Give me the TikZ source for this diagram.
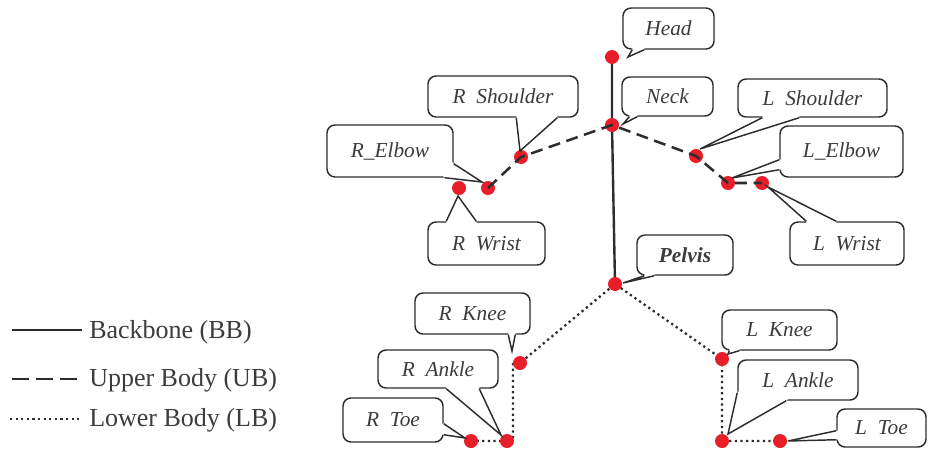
\documentclass[tikz,border=0pt]{standalone}
\usepackage{fontspec}
\setmainfont{Liberation Serif}
\usetikzlibrary{calc,backgrounds}
\definecolor{jointred}{RGB}{232,30,40}
\definecolor{inkgray}{RGB}{45,45,45}
\definecolor{textgray}{RGB}{60,60,60}
\tikzset{
  cbox/.style={draw=inkgray, line width=1.1pt, fill=white, rounded corners=6pt, inner sep=0pt,
    font=\fontsize{16}{18}\selectfont\itshape, text=textgray},
  joint/.style={circle, fill=jointred, inner sep=0pt, minimum size=10.5pt},
  bbline/.style={draw=inkgray, line width=1.8pt},
  ubline/.style={draw=inkgray, line width=1.9pt, dash pattern=on 9pt off 5pt},
  lbline/.style={draw=inkgray, line width=1.7pt, dash pattern=on 1.7pt off 2.5pt},
  tailline/.style={draw=inkgray, line width=1.1pt, line join=miter},
  legendtext/.style={anchor=west, inner sep=0pt, font=\fontsize{19.5}{22}\selectfont, text=textgray},
}
\newcommand\calloutbox[6]{%
  \node[cbox, minimum width={(#4-#2)*0.75pt}, minimum height={(#5-#3)*0.75pt}]
    (#1) at ({(#2+#4)/2},{(#3+#5)/2}) {#6};}
\newcommand\callouttail[4]{%
  \coordinate (tbA) at ($#1$);
  \coordinate (tbB) at ($#2$);
  \coordinate (ttip) at ($#3$);
  \fill[white] ($(tbA)+#4$) -- (tbA) -- (ttip) -- (tbB) -- ($(tbB)+#4$) -- cycle;
  \draw[tailline] (tbA) -- (ttip) -- (tbB);}
\begin{document}
\begin{tikzpicture}[x=0.75pt,y=-0.75pt]
\useasboundingbox (0,0) rectangle (931,450);

% joints
\node[joint] (head) at (612,57) {};
\node[joint] (neck) at (612,125) {};
\node[joint] (pelvis) at (615,284) {};
\node[joint] (rshoulder) at (521,157) {};
\node[joint] (relbow) at (488,188) {};
\node[joint] (rwrist) at (459,188) {};
\node[joint] (lshoulder) at (696,156) {};
\node[joint] (lelbow) at (728,183) {};
\node[joint] (lwrist) at (762,183) {};
\node[joint] (rknee) at (520,363) {};
\node[joint] (rankle) at (507,441) {};
\node[joint] (rtoe) at (471,441) {};
\node[joint] (lknee) at (722,359) {};
\node[joint] (lankle) at (722,441) {};
\node[joint] (ltoe) at (780,441) {};

% callouts
\calloutbox{hl}{623}{8}{714}{49}{Head}
\callouttail{(hl.south west)+(10,0)}{(hl.south west)+(22,0)}{(head.center)+(16,0)}{(0,-4)}
\calloutbox{nl}{622}{77}{713}{116}{Neck}
\callouttail{(nl.south west)+(8,0)}{(nl.south west)+(16,0)}{(neck.center)+(11,-1)}{(0,-4)}
\calloutbox{rsl}{428}{76}{578}{117}{R\ \ Shoulder}
\callouttail{(rsl.south west)+(89,0)}{(rsl.south west)+(130,0)}{(rshoulder.center)+(-1,-6)}{(0,-4)}
\calloutbox{lsl}{738}{79}{887}{117}{L\ \ Shoulder}
\callouttail{(lsl.south west)+(25,0)}{(lsl.south west)+(62,0)}{(lshoulder.center)+(4,-7)}{(0,-4)}
\calloutbox{rel}{327}{125}{453}{177}{R\_Elbow}
\callouttail{(rel.south east)+(0,-14)}{(rel.south east)+(-9,0)}{(relbow.center)+(-6,-6)}{(-5,-5)}
\calloutbox{lel}{780}{126}{903}{177}{L\_Elbow}
\callouttail{(lel.south west)+(0,-18)}{(lel.south west)+(0,-8)}{(lelbow.center)+(4,-5)}{(4,0)}
\calloutbox{rwl}{428}{222}{545}{265}{R\ \ Wrist}
\callouttail{(rwl.north west)+(19,0)}{(rwl.north west)+(49,0)}{(rwrist.center)+(-1,8)}{(0,4)}
\calloutbox{lwl}{790}{222}{904}{265}{L\ \ Wrist}
\callouttail{(lwl.north west)+(17,0)}{(lwl.north west)+(47,0)}{(lwrist.center)+(6,4)}{(0,4)}
\calloutbox{pl}{637}{235}{733}{275}{\bfseries Pelvis}
\callouttail{(pl.south west)+(8,0)}{(pl.south west)+(18,0)}{(pelvis.center)+(8,-1)}{(0,-4)}
\calloutbox{rkl}{415}{293}{530}{334}{R\ \ Knee}
\callouttail{(rkl.south west)+(94,0)}{(rkl.south west)+(101,0)}{(rknee.center)+(-8,-12)}{(0,-4)}
\calloutbox{lkl}{722}{310}{837}{350}{L\ \ Knee}
\callouttail{(lkl.south west)+(8,0)}{(lkl.south west)+(18,0)}{(lknee.center)+(6,-5)}{(0,-4)}
\calloutbox{ral}{378}{350}{498}{388}{R\ \ Ankle}
\callouttail{(ral.south west)+(69,0)}{(ral.south west)+(102,0)}{(rankle.center)+(-6,-6)}{(0,-4)}
\calloutbox{lal}{738}{360}{858}{400}{L\ \ Ankle}
\callouttail{(lal.south west)+(0,-8)}{(lal.south west)+(49,0)}{(lankle.center)+(6,-7)}{(6,-6)}
\calloutbox{rtl}{343}{398}{443}{442}{R\ \ Toe}
\callouttail{(rtl.south east)+(0,-19)}{(rtl.south east)+(0,-8)}{(rtoe.center)+(-6,-3)}{(-4,0)}
\calloutbox{ltl}{837}{409}{926}{447}{L\ \ Toe}
\callouttail{(ltl.south west)+(0,-17)}{(ltl.south west)+(0,-8)}{(ltoe.center)+(8,0)}{(4,0)}

% skeleton
\begin{pgfonlayer}{background}
\draw[bbline] (head.center) -- (neck.center) -- (pelvis.center);
\draw[lbline] (rtoe.center) -- (rankle.center) -- ($(rankle.center)+(6,0)$)
  -- ($(rknee.center)+(-7,0)$) -- (rknee.center) -- (pelvis.center)
  -- (lknee.center) -- (lankle.center) -- (ltoe.center);
\end{pgfonlayer}
\draw[ubline] (relbow.center) -- (rshoulder.center) -- (neck.center) -- (lshoulder.center)
  -- (lelbow.center) -- (lwrist.center);

% legend
\coordinate (bbA) at (12,330); \coordinate (bbB) at (82,330);
\draw[bbline] (bbA) -- (bbB);
\node[legendtext] (bbtext) at (89,332) {Backbone (BB)};
\coordinate (ubA) at (12,379); \coordinate (ubB) at (77,379);
\draw[bbline, dash pattern=on 12.75pt off 5.25pt] (ubA) -- (ubB);
\node[legendtext] (ubtext) at (89,380) {Upper Body (UB)};
\coordinate (lbA) at (10,419); \coordinate (lbB) at (80,419);
\draw[lbline] (lbA) -- (lbB);
\node[legendtext] (lbtext) at (89,420) {Lower Body (LB)};
\end{tikzpicture}
\end{document}
